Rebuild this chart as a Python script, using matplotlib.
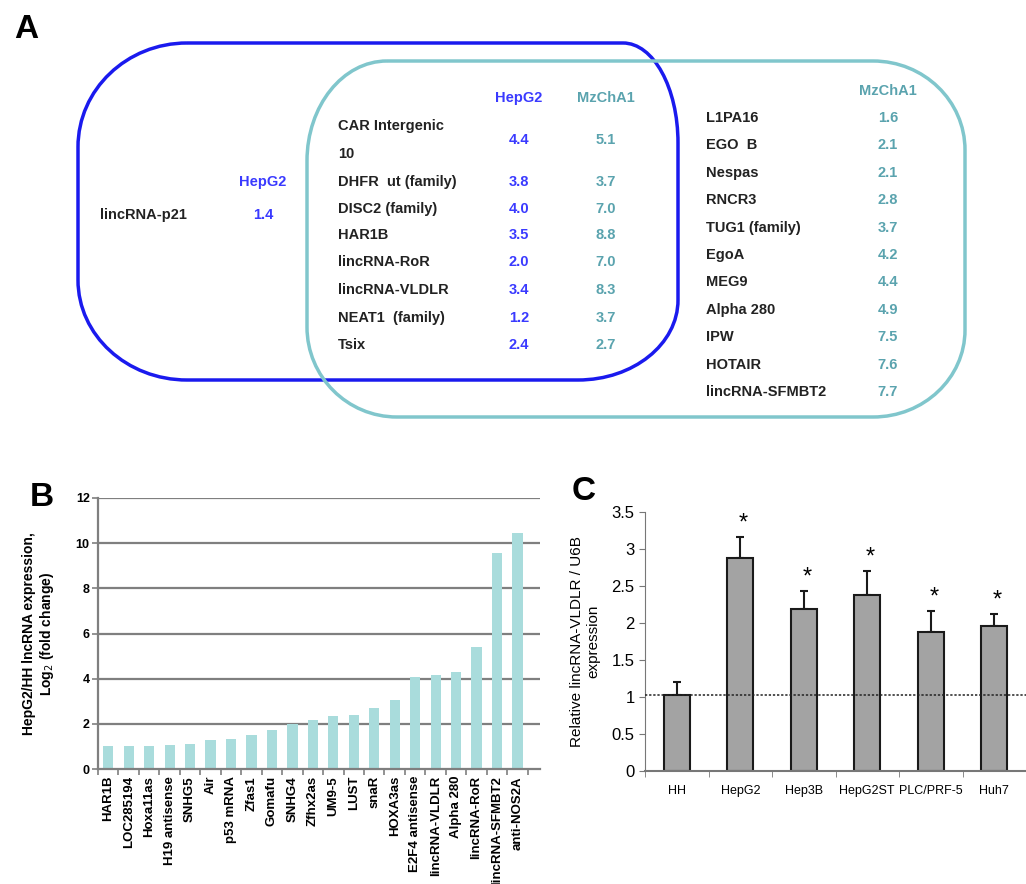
import matplotlib
matplotlib.use("Agg")
import matplotlib.pyplot as plt
from matplotlib.patches import PathPatch
from matplotlib.path import Path
from matplotlib import font_manager
import numpy as np

plt.rcParams['font.family'] = ['Liberation Sans', 'DejaVu Sans']
_names = {f.name for f in font_manager.fontManager.ttflist}
narrow = 'Liberation Sans Narrow' if 'Liberation Sans Narrow' in _names else 'Liberation Sans'

# ---------------- Data ----------------
# Panel A
hepg2_only_names = ["lincRNA-p21"]
hepg2_only_vals = ["1.4"]
shared_names = ["CAR Intergenic\n\n10", "DHFR  ut (family)", "DISC2 (family)", "HAR1B",
                "lincRNA-RoR", "lincRNA-VLDLR", "NEAT1  (family)", "Tsix"]
shared_hepg2 = ["4.4", "3.8", "4.0", "3.5", "2.0", "3.4", "1.2", "2.4"]
shared_mzcha1 = ["5.1", "3.7", "7.0", "8.8", "7.0", "8.3", "3.7", "2.7"]
mz_only_names = ["L1PA16", "EGO  B", "Nespas", "RNCR3", "TUG1 (family)", "EgoA", "MEG9",
                 "Alpha 280", "IPW", "HOTAIR", "lincRNA-SFMBT2"]
mz_only_vals = ["1.6", "2.1", "2.1", "2.8", "3.7", "4.2", "4.4", "4.9", "7.5", "7.6", "7.7"]

# Panel B
b_labels = ["HAR1B", "LOC285194", "Hoxa11as", "H19 antisense", "SNHG5", "Air", "p53 mRNA",
            "Zfas1", "Gomafu", "SNHG4", "Zfhx2as", "UM9-5", "LUST", "snaR", "HOXA3as",
            "E2F4 antisense", "lincRNA-VLDLR", "Alpha 280", "lincRNA-RoR", "lincRNA-SFMBT2",
            "anti-NOS2A"]
b_values = [1.03, 1.02, 1.02, 1.08, 1.1, 1.27, 1.33, 1.5, 1.74, 2.0, 2.15, 2.33, 2.38,
            2.69, 3.04, 4.07, 4.15, 4.28, 5.39, 9.56, 10.45]

# Panel C
c_labels = ["HH", "HepG2", "Hep3B", "HepG2ST", "PLC/PRF-5", "Huh7"]
c_values = [1.03, 2.87, 2.18, 2.38, 1.87, 1.96]
c_errors = [0.17, 0.29, 0.25, 0.32, 0.29, 0.16]
c_signif = [False, True, True, True, True, True]
c_baseline = 1.02

# ---------------- Figure ----------------
W, H = 1026, 884
fig = plt.figure(figsize=(W / 100, H / 100), dpi=100)

axA = fig.add_axes([0, 0, 1, 1])
axA.set_xlim(0, W)
axA.set_ylim(H, 0)
axA.axis('off')


def rounded_box(x0, y0, x1, y1, tl, tr, br, bl):
    """Rounded rectangle (y down) with elliptical corners (rx, ry) each."""
    k = 0.5523
    v, c = [], []
    v.append((x0 + tl[0], y0)); c.append(Path.MOVETO)
    v.append((x1 - tr[0], y0)); c.append(Path.LINETO)
    v += [(x1 - tr[0] + k * tr[0], y0), (x1, y0 + tr[1] - k * tr[1]), (x1, y0 + tr[1])]
    c += [Path.CURVE4] * 3
    v.append((x1, y1 - br[1])); c.append(Path.LINETO)
    v += [(x1, y1 - br[1] + k * br[1]), (x1 - br[0] + k * br[0], y1), (x1 - br[0], y1)]
    c += [Path.CURVE4] * 3
    v.append((x0 + bl[0], y1)); c.append(Path.LINETO)
    v += [(x0 + bl[0] - k * bl[0], y1), (x0, y1 - bl[1] + k * bl[1]), (x0, y1 - bl[1])]
    c += [Path.CURVE4] * 3
    v.append((x0, y0 + tl[1])); c.append(Path.LINETO)
    v += [(x0, y0 + tl[1] - k * tl[1]), (x0 + tl[0] - k * tl[0], y0), (x0 + tl[0], y0)]
    c += [Path.CURVE4] * 3
    return Path(v, c)


blue = '#1a1aee'
blue_txt = '#3a3aff'
teal = '#80c6cc'
teal_txt = '#5aa3ae'

axA.add_patch(PathPatch(rounded_box(78, 43, 678, 380, (109, 104), (55, 100), (100, 80), (109, 100)),
                        fill=False, ec=blue, lw=2.5))
axA.add_patch(PathPatch(rounded_box(307, 61, 965, 417, (80, 100), (92, 89), (92, 87), (90, 90)),
                        fill=False, ec=teal, lw=2.5))

fsA = 10.5
axA.text(14, 30, "A", fontsize=24, fontweight='bold', va='center', ha='left')

axA.text(263, 182, "HepG2", color=blue_txt, fontsize=fsA, fontweight='bold', ha='center', va='center')
for i, (n, v) in enumerate(zip(hepg2_only_names, hepg2_only_vals)):
    axA.text(100, 215 + i * 27, n, fontsize=fsA, fontweight='bold', ha='left', va='center', color='#222222')
    axA.text(263, 215 + i * 27, v, fontsize=fsA, fontweight='bold', ha='center', va='center', color=blue_txt)

axA.text(519, 98, "HepG2", color=blue_txt, fontsize=fsA, fontweight='bold', ha='center', va='center')
axA.text(606, 98, "MzChA1", color=teal_txt, fontsize=fsA, fontweight='bold', ha='center', va='center')
ys = [140, 182, 209, 235, 262, 290, 318, 345]
for n, a, b, y in zip(shared_names, shared_hepg2, shared_mzcha1, ys):
    axA.text(338, y, n, fontsize=fsA, fontweight='bold', ha='left', va='center', color='#222222',
             linespacing=1.0)
    axA.text(519, y, a, fontsize=fsA, fontweight='bold', ha='center', va='center', color=blue_txt)
    axA.text(606, y, b, fontsize=fsA, fontweight='bold', ha='center', va='center', color=teal_txt)

axA.text(888, 91, "MzChA1", color=teal_txt, fontsize=fsA, fontweight='bold', ha='center', va='center')
for i, (n, v) in enumerate(zip(mz_only_names, mz_only_vals)):
    y = 118 + i * 27.4
    axA.text(706, y, n, fontsize=fsA, fontweight='bold', ha='left', va='center', color='#222222')
    axA.text(888, y, v, fontsize=fsA, fontweight='bold', ha='center', va='center', color=teal_txt)

axA.text(30, 498, "B", fontsize=24, fontweight='bold', va='center', ha='left')
axA.text(572, 492, "C", fontsize=24, fontweight='bold', va='center', ha='left')

# ---------------- Panel B ----------------
axB = fig.add_axes([98 / W, 1 - 769 / H, (540 - 98) / W, (769 - 498) / H])
xb = np.arange(len(b_values))
grid_c = '#7f7f7f'
for yv in range(2, 13, 2):
    axB.axhline(yv, color=grid_c, lw=1.6, zorder=0)
axB.bar(xb, b_values, width=0.5, color='#a9dcdc', zorder=2)
axB.set_xlim(-0.5, 21.1)
axB.set_ylim(0, 12)
axB.set_yticks(range(0, 13, 2))
axB.set_yticklabels([str(v) for v in range(0, 13, 2)], fontsize=9, fontweight='bold')
axB.set_xticks(xb)
axB.set_xticklabels(b_labels, rotation=90, fontsize=9.5, fontweight='bold', family=narrow)
axB.tick_params(axis='x', which='major', length=0, pad=5)
axB.set_xticks(np.arange(-0.5, 21, 1), minor=True)
axB.tick_params(axis='x', which='minor', length=4, color=grid_c, width=1.2)
axB.tick_params(axis='y', length=4, color=grid_c, width=1.2, pad=2)
for s in ['top', 'right']:
    axB.spines[s].set_visible(False)
axB.spines['left'].set_color(grid_c)
axB.spines['left'].set_linewidth(1.6)
axB.spines['bottom'].set_color(grid_c)
axB.spines['bottom'].set_linewidth(1.6)
axB.set_ylabel("HepG2/HH lncRNA expression,\nLog$_2$ (fold change)", fontsize=10,
               fontweight='bold', labelpad=14)

# ---------------- Panel C ----------------
axC = fig.add_axes([645 / W, 1 - 771 / H, (1026 - 645) / W, (771 - 511.7) / H])
xc = np.arange(len(c_values))
axC.bar(xc, c_values, width=0.41, color='#a3a3a3', edgecolor='#1a1a1a', lw=1.5, zorder=2)
axC.errorbar(xc, c_values, yerr=[np.zeros(len(c_errors)), c_errors], fmt='none',
             ecolor='#1a1a1a', elinewidth=1.5, capsize=3, capthick=1.5, zorder=1)
axC.axhline(c_baseline, color='#222222', lw=1.1, ls=(0, (1.5, 1.2)), zorder=3)
for x, v, e, s in zip(xc, c_values, c_errors, c_signif):
    if s:
        axC.text(x + 0.05, v + e + 0.03, "*", fontsize=17, ha='center', va='bottom')
axC.set_xlim(-0.5, 5.45)
axC.set_ylim(0, 3.5)
axC.set_yticks(np.arange(0, 3.51, 0.5))
axC.set_yticklabels(["0", "0.5", "1", "1.5", "2", "2.5", "3", "3.5"], fontsize=12)
axC.set_xticks(xc)
axC.set_xticklabels(c_labels, fontsize=9)
axC.tick_params(axis='x', which='major', length=0, pad=10)
axC.set_xticks(np.arange(-0.5, 5.6, 1), minor=True)
axC.tick_params(axis='x', which='minor', length=4, color='#777777')
axC.tick_params(axis='y', length=4, color='#777777')
for s in ['top', 'right']:
    axC.spines[s].set_visible(False)
axC.spines['left'].set_color('#777777')
axC.spines['bottom'].set_color('#777777')
axC.spines['bottom'].set_linewidth(1.5)
axC.set_ylabel("Relative lincRNA-VLDLR / U6B\nexpression", fontsize=11, labelpad=8)

fig.savefig("out.png", dpi=100)
